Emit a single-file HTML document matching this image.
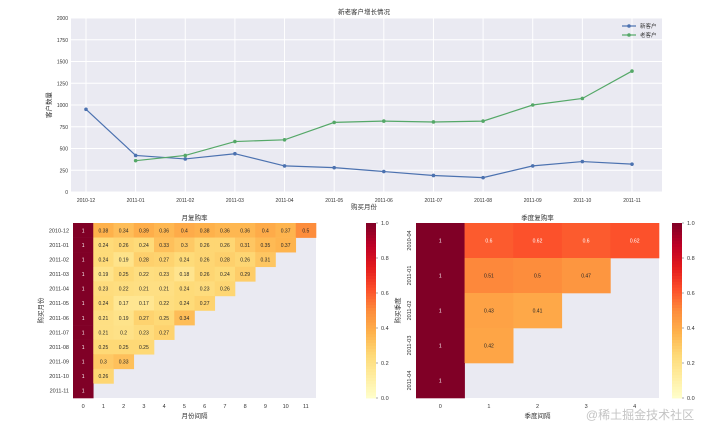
<!DOCTYPE html>
<html><head><meta charset="utf-8">
<style>
body{margin:0;background:#fff;width:720px;height:438px;overflow:hidden}
svg text{font-family:"Liberation Sans","Noto Sans CJK SC",sans-serif;fill:#333}
</style></head>
<body>
<svg id="svg" width="720" height="438" viewBox="0 0 720 438"></svg>
<script>
const months=["2010-12","2011-01","2011-02","2011-03","2011-04","2011-05","2011-06","2011-07","2011-08","2011-09","2011-10","2011-11"];
const newCust=[950,420,380,440,300,280,235,190,165,300,350,320];
const oldCust=[null,360,420,580,600,800,815,805,815,1000,1075,1390];
const yTicks=[0,250,500,750,1000,1250,1500,1750,2000];
const monthRates=[
[1,0.38,0.34,0.39,0.36,0.4,0.38,0.36,0.36,0.4,0.37,0.5],
[1,0.24,0.26,0.24,0.33,0.3,0.26,0.26,0.31,0.35,0.37],
[1,0.24,0.19,0.28,0.27,0.24,0.26,0.28,0.26,0.31],
[1,0.19,0.25,0.22,0.23,0.18,0.26,0.24,0.29],
[1,0.23,0.22,0.21,0.21,0.24,0.23,0.26],
[1,0.24,0.17,0.17,0.22,0.24,0.27],
[1,0.21,0.19,0.27,0.25,0.34],
[1,0.21,0.2,0.23,0.27],
[1,0.25,0.25,0.25],
[1,0.3,0.33],
[1,0.26],
[1]];
const quarters=["2010-04","2011-01","2011-02","2011-03","2011-04"];
const quarterRates=[[1,0.6,0.62,0.6,0.62],[1,0.51,0.5,0.47],[1,0.43,0.41],[1,0.42],[1]];
const cbTicks=[0,0.2,0.4,0.6,0.8,1.0];

const svg=document.getElementById('svg');
const NS='http://www.w3.org/2000/svg';
function el(tag,attrs,parent){const e=document.createElementNS(NS,tag);for(const k in attrs)e.setAttribute(k,attrs[k]);(parent||svg).appendChild(e);return e;}
function txt(x,y,s,size,anchor,parent,extra){const t=el('text',Object.assign({x:x,y:y,'font-size':size,'text-anchor':anchor||'middle'},extra||{}),parent);t.textContent=s;return t;}

const stops=["#ffffcc","#ffeda0","#fed976","#feb24c","#fd8d3c","#fc4e2a","#e31a1c","#bd0026","#800026"];
function hex(h){return [parseInt(h.slice(1,3),16),parseInt(h.slice(3,5),16),parseInt(h.slice(5,7),16)];}
function cmap(v){v=Math.max(0,Math.min(1,v));const p=v*8,i=Math.min(7,Math.floor(p)),f=p-i;const a=hex(stops[i]),b=hex(stops[i+1]);const c=a.map((x,j)=>Math.round(x+(b[j]-x)*f));return {s:`rgb(${c[0]},${c[1]},${c[2]})`,l:(0.299*c[0]+0.587*c[1]+0.114*c[2])};}

// ---- line chart ----
const L={x0:71,x1:662,y0:18,y1:192};
const xs=i=>86+i*(632-86)/(months.length-1);
const ys=v=>L.y1-(v/2000)*(L.y1-L.y0);
const lg=el('g',{});


el('rect',{x:L.x0,y:L.y0,width:L.x1-L.x0,height:L.y1-L.y0,fill:'#eaeaf2'},lg);
yTicks.forEach(t=>{el('line',{x1:L.x0,x2:L.x1,y1:ys(t),y2:ys(t),stroke:'#fff','stroke-width':1},lg);
 const tl=txt(L.x0-3,ys(t)+2,String(t),5,'end',lg);});
months.forEach((m,i)=>{el('line',{x1:xs(i),x2:xs(i),y1:L.y0,y2:L.y1,stroke:'#fff','stroke-width':1},lg);
 const tl=txt(xs(i),L.y1+10,m,5,'middle',lg);});
const t1=txt(364,14,'新老客户增长情况',6.5,'middle',lg);
const t2=txt(364,209,'购买月份',6.5,'middle',lg);
const t3=txt(0,0,'客户数量',6.5,'middle',lg,{transform:'translate(51,105) rotate(-90)'});
function series(data,color,name){
 let d='';data.forEach((v,i)=>{if(v==null)return;d+=(d?'L':'M')+xs(i)+','+ys(v);});
 const p=el('path',{d:d,fill:'none',stroke:color,'stroke-width':1.2},lg);
 
 data.forEach((v,i)=>{if(v==null)return;const c=el('circle',{cx:xs(i),cy:ys(v),r:1.8,fill:color},lg);
  });
}
series(newCust,'#4c72b0','new-customer');
series(oldCust,'#55a868','old-customer');
[['新客户','#4c72b0',26],['老客户','#55a868',35]].forEach(([n,c,y])=>{
 const g=el('g',{},lg);
 el('line',{x1:622,x2:636,y1:y,y2:y,stroke:c,'stroke-width':1.2},g);el('circle',{cx:629,cy:y,r:1.8,fill:c},g);
 txt(640,y+2,n,5.5,'start',g);});

// ---- heatmap helper ----
function heatmap(name,data,rowLabels,colCount,H,title,xtitle,ytitle,fs,rotate){
 const g=el('g',{});
 const cw=(H.x1-H.x0)/colCount,ch=(H.y1-H.y0)/rowLabels.length;
 el('rect',{x:H.x0,y:H.y0,width:H.x1-H.x0,height:H.y1-H.y0,fill:'#eaeaf2'},g);
 data.forEach((row,r)=>row.forEach((v,c)=>{
  const col=cmap(v);
  const rc=el('rect',{x:H.x0+c*cw,y:H.y0+r*ch,width:cw+0.3,height:ch+0.3,fill:col.s},g);
  
  const t=txt(H.x0+(c+0.5)*cw,H.y0+(r+0.5)*ch+2,String(v),fs,'middle',g,{style:'fill:'+(col.l<140?'#fff':'#262626')});
  
 }));
 rowLabels.forEach((l,r)=>{const y=H.y0+(r+0.5)*ch;
  const t=rotate?txt(0,0,l,5.5,'middle',g,{transform:`translate(${H.x0-5},${y}) rotate(-90)`}):txt(H.x0-4,y+2,l,5.5,'end',g);
  });
 for(let c=0;c<colCount;c++){const t=txt(H.x0+(c+0.5)*cw,H.y1+10,String(c),5.5,'middle',g);
  }
 const a=txt((H.x0+H.x1)/2,H.y0-3,title,6.5,'middle',g);
 const b=txt((H.x0+H.x1)/2,H.y1+20,xtitle,6.5,'middle',g);
 const c=txt(0,0,ytitle,6.5,'middle',g,{transform:`translate(${H.yt},${(H.y0+H.y1)/2}) rotate(-90)`});
 const cb=el('g',{},g);
 const n=60,hh=(H.y1-H.y0)/n;
 for(let i=0;i<n;i++)el('rect',{x:H.cb,y:H.y1-(i+1)*hh,width:10,height:hh+0.4,fill:cmap((i+0.5)/n).s},cb);
 cbTicks.forEach(t=>{const y=H.y1-t*(H.y1-H.y0);el('line',{x1:H.cb+10,x2:H.cb+12,y1:y,y2:y,stroke:'#555','stroke-width':0.5},cb);
  const tl=txt(H.cb+15,y+2,t.toFixed(1),5.5,'start',cb);});
}
heatmap('monthly-repurchase-heatmap',monthRates,months,12,{x0:73,x1:316,y0:223,y1:398,cb:366,yt:43},'月复购率','月份间隔','购买月份',5,false);
heatmap('quarterly-repurchase-heatmap',quarterRates,quarters,5,{x0:416,x1:659,y0:223,y1:398,cb:672,yt:400},'季度复购率','季度间隔','购买季度',5,true);
const wm=txt(640,419,'@稀土掘金技术社区',12,'middle',null,{style:'fill:#c4c4c4'});

</script>
</body></html>
